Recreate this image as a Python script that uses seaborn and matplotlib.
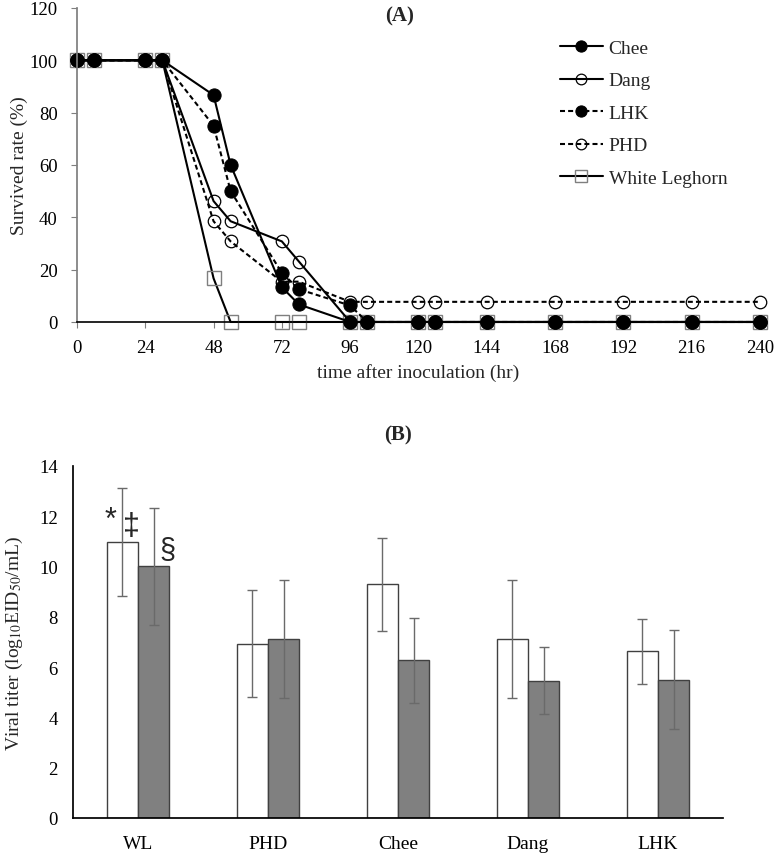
import matplotlib
matplotlib.use("Agg")
import matplotlib.pyplot as plt
import pandas as pd
import seaborn as sns

# Panel A: survival over time
hours = [0, 6, 24, 30, 48, 54, 72, 78, 96, 102, 120, 126, 144, 168, 192, 216, 240]
chee = [100, 100, 100, 100, 86.7, 60, 13.3, 6.7, 0, 0, 0, 0, 0, 0, 0, 0, 0]
dang = [100, 100, 100, 100, 46.2, 38.5, 30.8, 23.1, 0, 0, 0, 0, 0, 0, 0, 0, 0]
lhk = [100, 100, 100, 100, 75, 50, 18.8, 12.5, 6.3, 0, 0, 0, 0, 0, 0, 0, 0]
phd = [100, 100, 100, 100, 38.5, 30.8, 15.4, 15.4, 7.7, 7.7, 7.7, 7.7, 7.7, 7.7, 7.7, 7.7, 7.7]
white_leghorn = [100, 100, 100, 100, 16.7, 0, 0, 0, 0, 0, 0, 0, 0, 0, 0, 0, 0]

# Panel B: viral titer per breed
breeds = ["WL", "PHD", "Chee", "Dang", "LHK"]
titer_open = [10.98, 6.93, 9.29, 7.13, 6.63]
titer_open_err = [2.16, 2.12, 1.86, 2.34, 1.30]
titer_grey = [10.01, 7.11, 6.28, 5.46, 5.50]
titer_grey_err = [2.33, 2.35, 1.69, 1.34, 1.97]

sns.set_theme(style="white")
plt.rcParams["font.family"] = ["Liberation Serif", "DejaVu Serif"]
plt.rcParams["mathtext.fontset"] = "stix"
plt.rcParams["lines.dashed_pattern"] = [2.4, 1.5]

fig = plt.figure(figsize=(7.76, 8.54), dpi=100)

# ---------------- Panel A ----------------
ax1 = fig.add_axes([0.0992, 0.6218, 0.880, 0.3677])

# white leghorn first so the circles sit on top of the squares
sns.lineplot(x=hours, y=white_leghorn, ax=ax1, color="black", linewidth=1.5,
             marker="s", markersize=10, markerfacecolor="none",
             markeredgecolor="#7f7f7f", markeredgewidth=1.0, label="White Leghorn")
sns.lineplot(x=hours, y=chee, ax=ax1, color="black", linewidth=1.5,
             marker="o", markersize=9.5, markerfacecolor="black",
             markeredgecolor="black", label="Chee")
sns.lineplot(x=hours, y=dang, ax=ax1, color="black", linewidth=1.5,
             marker="o", markersize=9, markerfacecolor="none",
             markeredgecolor="black", markeredgewidth=0.9, label="Dang")
sns.lineplot(x=hours, y=lhk, ax=ax1, color="black", linewidth=1.5, linestyle="--",
             marker="o", markersize=9.5, markerfacecolor="black",
             markeredgecolor="black", label="LHK")
sns.lineplot(x=hours, y=phd, ax=ax1, color="black", linewidth=1.5, linestyle="--",
             marker="o", markersize=9, markerfacecolor="none",
             markeredgecolor="black", markeredgewidth=0.9, label="PHD")
for line in ax1.lines:
    line.set_clip_on(False)

ax1.set_xlim(0, 240)
ax1.set_ylim(0, 120)
ax1.set_xticks(range(0, 241, 24))
ax1.set_yticks(range(0, 121, 20))
ax1.tick_params(axis="both", labelsize=13.5, length=4, width=0.8, direction="out",
                colors="#7f7f7f", labelcolor="black", bottom=True, left=True)
ax1.tick_params(axis="x", pad=8)
ax1.tick_params(axis="y", pad=10)
for side in ["top", "right"]:
    ax1.spines[side].set_visible(False)
ax1.spines["left"].set_color("#7f7f7f")
ax1.spines["bottom"].set_color("black")
ax1.spines["bottom"].set_linewidth(1.2)
ax1.set_xlabel("time after inoculation (hr)", fontsize=14, labelpad=5)
ax1.set_ylabel("Survived rate (%)", fontsize=14, labelpad=1)
fig.text(0.5155, 1 - 16 / 854, "(A)", fontsize=15, fontweight="bold",
         ha="center", va="center")

handles, labels = ax1.get_legend_handles_labels()
order = ["Chee", "Dang", "LHK", "PHD", "White Leghorn"]
hmap = dict(zip(labels, handles))
ax1.legend([hmap[k] for k in order], order, loc="upper left",
           bbox_to_anchor=(0.7216, 0.953), bbox_transform=fig.transFigure,
           frameon=False, fontsize=14, handlelength=2.2, handletextpad=0.3,
           labelspacing=0.77, borderpad=0, borderaxespad=0, markerscale=0.85)

# ---------------- Panel B ----------------
ax2 = fig.add_axes([0.0941, 0.041, 0.8376, 0.4122])

titer_df = pd.DataFrame({
    "breed": breeds * 2,
    "titer": titer_open + titer_grey,
    "group": ["open"] * len(breeds) + ["grey"] * len(breeds),
})
sns.barplot(data=titer_df, x="breed", y="titer", hue="group",
            hue_order=["open", "grey"], palette=["white", "#808080"],
            width=0.48, gap=0, errorbar=None, edgecolor="#404040",
            linewidth=1.0, ax=ax2, legend=False, saturation=1)

errs = titer_open_err + titer_grey_err
for bar, err in zip(ax2.patches, errs):
    cx = bar.get_x() + bar.get_width() / 2
    ax2.errorbar(cx, bar.get_height(), yerr=err, color="#6a6a6a",
                 elinewidth=1.0, capsize=3.5, capthick=1.0, zorder=5)

ax2.set_xlim(-0.5, 4.5)
ax2.set_ylim(0, 14)
ax2.set_yticks(range(0, 15, 2))
ax2.tick_params(axis="both", labelsize=13.5, length=0, colors="black")
ax2.tick_params(axis="x", labelsize=14, pad=12)
ax2.tick_params(axis="y", pad=11)
for side in ["top", "right"]:
    ax2.spines[side].set_visible(False)
ax2.spines["left"].set_color("black")
ax2.spines["bottom"].set_color("black")
ax2.set_xlabel("")
ax2.set_ylabel(r"Viral titer (log$_{10}$EID$_{50}$/mL)", fontsize=14, labelpad=10)
fig.text(0.513, 1 - 435 / 854, "(B)", fontsize=15, fontweight="bold",
         ha="center", va="center")

# significance marks on the WL bars
ax2.text(-0.215, 11.85, "*", fontsize=22, family="Liberation Sans",
         ha="center", va="center")
ax2.text(-0.054, 11.6, "\u2021", fontsize=22, family="Liberation Sans",
         ha="center", va="center")
ax2.text(0.223, 10.66, "\u00a7", fontsize=21, family="Liberation Sans",
         ha="center", va="center")

fig.savefig("out.png", dpi=100)
